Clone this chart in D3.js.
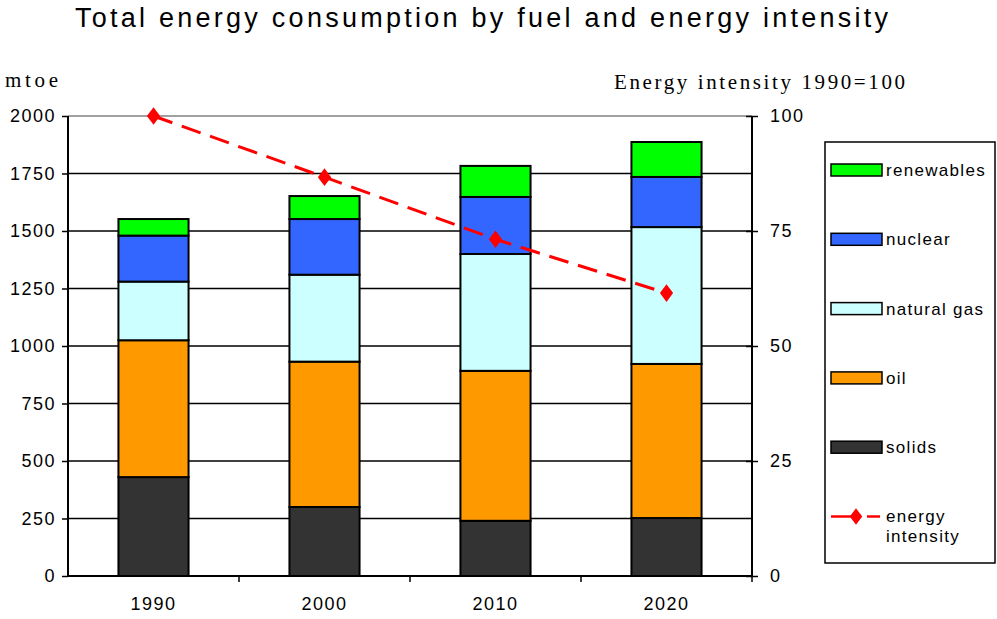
<!DOCTYPE html>
<html>
<head>
<meta charset="utf-8">
<script src="https://cdn.jsdelivr.net/npm/d3@7"></script>
<style>
  body { margin: 0; background: #fff; }
  text { font-family: "Liberation Sans", Arial, sans-serif; fill: #000; }
</style>
</head>
<body>
<div id="chart"></div>
<script>
// data
var years = ["1990", "2000", "2010", "2020"];
var solids = [430, 300, 240, 252];
var oil = [595, 632, 652, 670];
var naturalGas = [255, 378, 508, 595];
var nuclear = [200, 242, 248, 218];
var renewables = [72, 100, 135, 152];
var intensity = [100, 86.7, 73.2, 61.5];
var leftTicks = [0, 250, 500, 750, 1000, 1250, 1500, 1750, 2000];
var rightTicks = [0, 25, 50, 75, 100];

var fuels = [
  {key: "solids", values: solids, color: "#333333"},
  {key: "oil", values: oil, color: "#FF9900"},
  {key: "natural gas", values: naturalGas, color: "#CCFFFF"},
  {key: "nuclear", values: nuclear, color: "#3366FF"},
  {key: "renewables", values: renewables, color: "#00FF00"}
];

var W = 997, H = 619;
var pLeft = 68, pRight = 752, pTop = 116, pBottom = 576;
var sans = "'Liberation Sans', Arial, sans-serif";
var serif = "'Liberation Serif', 'Times New Roman', serif";

var svg = d3.select("#chart").append("svg")
  .attr("width", W).attr("height", H);

var x = d3.scaleBand().domain(years).range([pLeft, pRight]).padding(0);
var y = d3.scaleLinear().domain([0, 2000]).range([pBottom, pTop]);
var y2 = d3.scaleLinear().domain([0, 100]).range([pBottom, pTop]);
var barW = x.bandwidth() * 0.41;

// title
svg.append("text")
  .attr("x", 75).attr("y", 27)
  .attr("textLength", 813).attr("lengthAdjust", "spacing")
  .style("font-family", sans).style("font-size", "27px")
  .text("Total energy consumption by fuel and energy intensity");

// axis titles
svg.append("text").attr("x", 5).attr("y", 87)
  .attr("textLength", 53).attr("lengthAdjust", "spacing")
  .style("font-family", serif).style("font-size", "21px")
  .text("mtoe");
svg.append("text").attr("x", 614).attr("y", 89)
  .attr("textLength", 291).attr("lengthAdjust", "spacing")
  .style("font-family", serif).style("font-size", "21px")
  .text("Energy intensity 1990=100");

// gridlines
svg.append("g").selectAll("line").data(leftTicks.slice(1)).join("line")
  .attr("x1", pLeft).attr("x2", pRight)
  .attr("y1", function(d){ return y(d); }).attr("y2", function(d){ return y(d); })
  .attr("stroke", function(d){ return d == 2000 ? "#808080" : "#000"; })
  .attr("stroke-width", 1.5);

// stacked bars
var stack = d3.stack().keys(d3.range(fuels.length))
  .value(function(d, i){ return fuels[i].values[d]; });
var layers = stack(d3.range(years.length));

svg.append("g").selectAll("g").data(layers).join("g")
  .attr("fill", function(d, i){ return fuels[i].color; })
  .selectAll("rect").data(function(d){ return d; }).join("rect")
  .attr("x", function(d, j){ return x(years[j]) + (x.bandwidth() - barW) / 2; })
  .attr("width", barW)
  .attr("y", function(d){ return y(d[1]); })
  .attr("height", function(d){ return y(d[0]) - y(d[1]); })
  .attr("stroke", "#000").attr("stroke-width", 2);

// left axis
var yAxis = svg.append("g").attr("transform", "translate(" + pLeft + ",0)")
  .call(d3.axisLeft(y).tickValues(leftTicks).tickFormat(d3.format("d")).tickSize(6).tickPadding(6));
// right axis
var yAxis2 = svg.append("g").attr("transform", "translate(" + pRight + ",0)")
  .call(d3.axisRight(y2).tickValues(rightTicks).tickFormat(d3.format("d")).tickSize(6).tickPadding(12));
yAxis2.selectAll(".tick line").attr("x1", -6);
// bottom axis with ticks between categories
var xAxis = svg.append("g").attr("transform", "translate(0," + pBottom + ")")
  .call(d3.axisBottom(x).tickSize(0).tickPadding(21));
xAxis.selectAll(".tick").select("line").remove();
xAxis.selectAll("line.sep").data(years.slice(1).concat(["end"])).join("line")
  .attr("class", "sep")
  .attr("x1", function(d){ return d == "end" ? pRight : x(d); })
  .attr("x2", function(d){ return d == "end" ? pRight : x(d); })
  .attr("y1", 0).attr("y2", 6)
  .attr("stroke", "#000").attr("stroke-width", 1.5);

[yAxis, yAxis2, xAxis].forEach(function(a){
  a.attr("font-family", sans);
  a.select(".domain").attr("stroke", "#000").attr("stroke-width", 2);
  a.selectAll(".tick line").attr("stroke", "#000").attr("stroke-width", 1.5);
  a.selectAll("text").style("font-size", "18px").style("letter-spacing", "1.5px")
    .style("font-family", sans).attr("fill", "#000");
});
yAxis.select(".domain").attr("d", "M0," + pTop + "V" + pBottom);
yAxis2.select(".domain").attr("d", "M0," + pTop + "V" + pBottom);
xAxis.select(".domain").attr("d", "M" + pLeft + ",0H" + pRight);

// energy intensity line
var cx = function(d, i){ return x(years[i]) + x.bandwidth() / 2; };
svg.append("path").datum(intensity)
  .attr("d", d3.line().x(cx).y(function(d){ return y2(d); }))
  .attr("fill", "none").attr("stroke", "#FF0000").attr("stroke-width", 3)
  .attr("stroke-dasharray", "20,10");
svg.append("g").selectAll("path").data(intensity).join("path")
  .attr("d", d3.symbol().type(d3.symbolDiamond).size(90))
  .attr("transform", function(d, i){ return "translate(" + cx(d, i) + "," + y2(d) + ") scale(1.3,1)"; })
  .attr("fill", "#FF0000");

// legend
var lg = svg.append("g");
lg.append("rect").attr("x", 825).attr("y", 142).attr("width", 170).attr("height", 421)
  .attr("fill", "#fff").attr("stroke", "#000").attr("stroke-width", 1.5);
var legendItems = fuels.slice().reverse();
var ly = function(i){ return 170 + i * 69.3; };
lg.selectAll("rect.sw").data(legendItems).join("rect")
  .attr("class", "sw")
  .attr("x", 831).attr("y", function(d, i){ return ly(i) - 6; })
  .attr("width", 51).attr("height", 12)
  .attr("fill", function(d){ return d.color; })
  .attr("stroke", "#000").attr("stroke-width", 1.5);
lg.selectAll("text.lt").data(legendItems).join("text")
  .attr("class", "lt")
  .attr("x", 886).attr("y", function(d, i){ return ly(i) + 6; })
  .style("font-family", sans).style("font-size", "17px").style("letter-spacing", "1.3px")
  .text(function(d){ return d.key; });
var eiY = ly(5);
lg.append("line").attr("x1", 831).attr("x2", 880).attr("y1", eiY).attr("y2", eiY)
  .attr("stroke", "#FF0000").attr("stroke-width", 2.5).attr("stroke-dasharray", "30,6,13");
lg.append("path").attr("d", d3.symbol().type(d3.symbolDiamond).size(80))
  .attr("transform", "translate(856," + eiY + ") scale(1.3,1)").attr("fill", "#FF0000");
lg.append("text").attr("x", 886).attr("y", eiY + 5)
  .style("font-family", sans).style("font-size", "17px").style("letter-spacing", "1.3px").text("energy");
lg.append("text").attr("x", 886).attr("y", eiY + 25)
  .style("font-family", sans).style("font-size", "17px").style("letter-spacing", "1.3px").text("intensity");
</script>
</body>
</html>
